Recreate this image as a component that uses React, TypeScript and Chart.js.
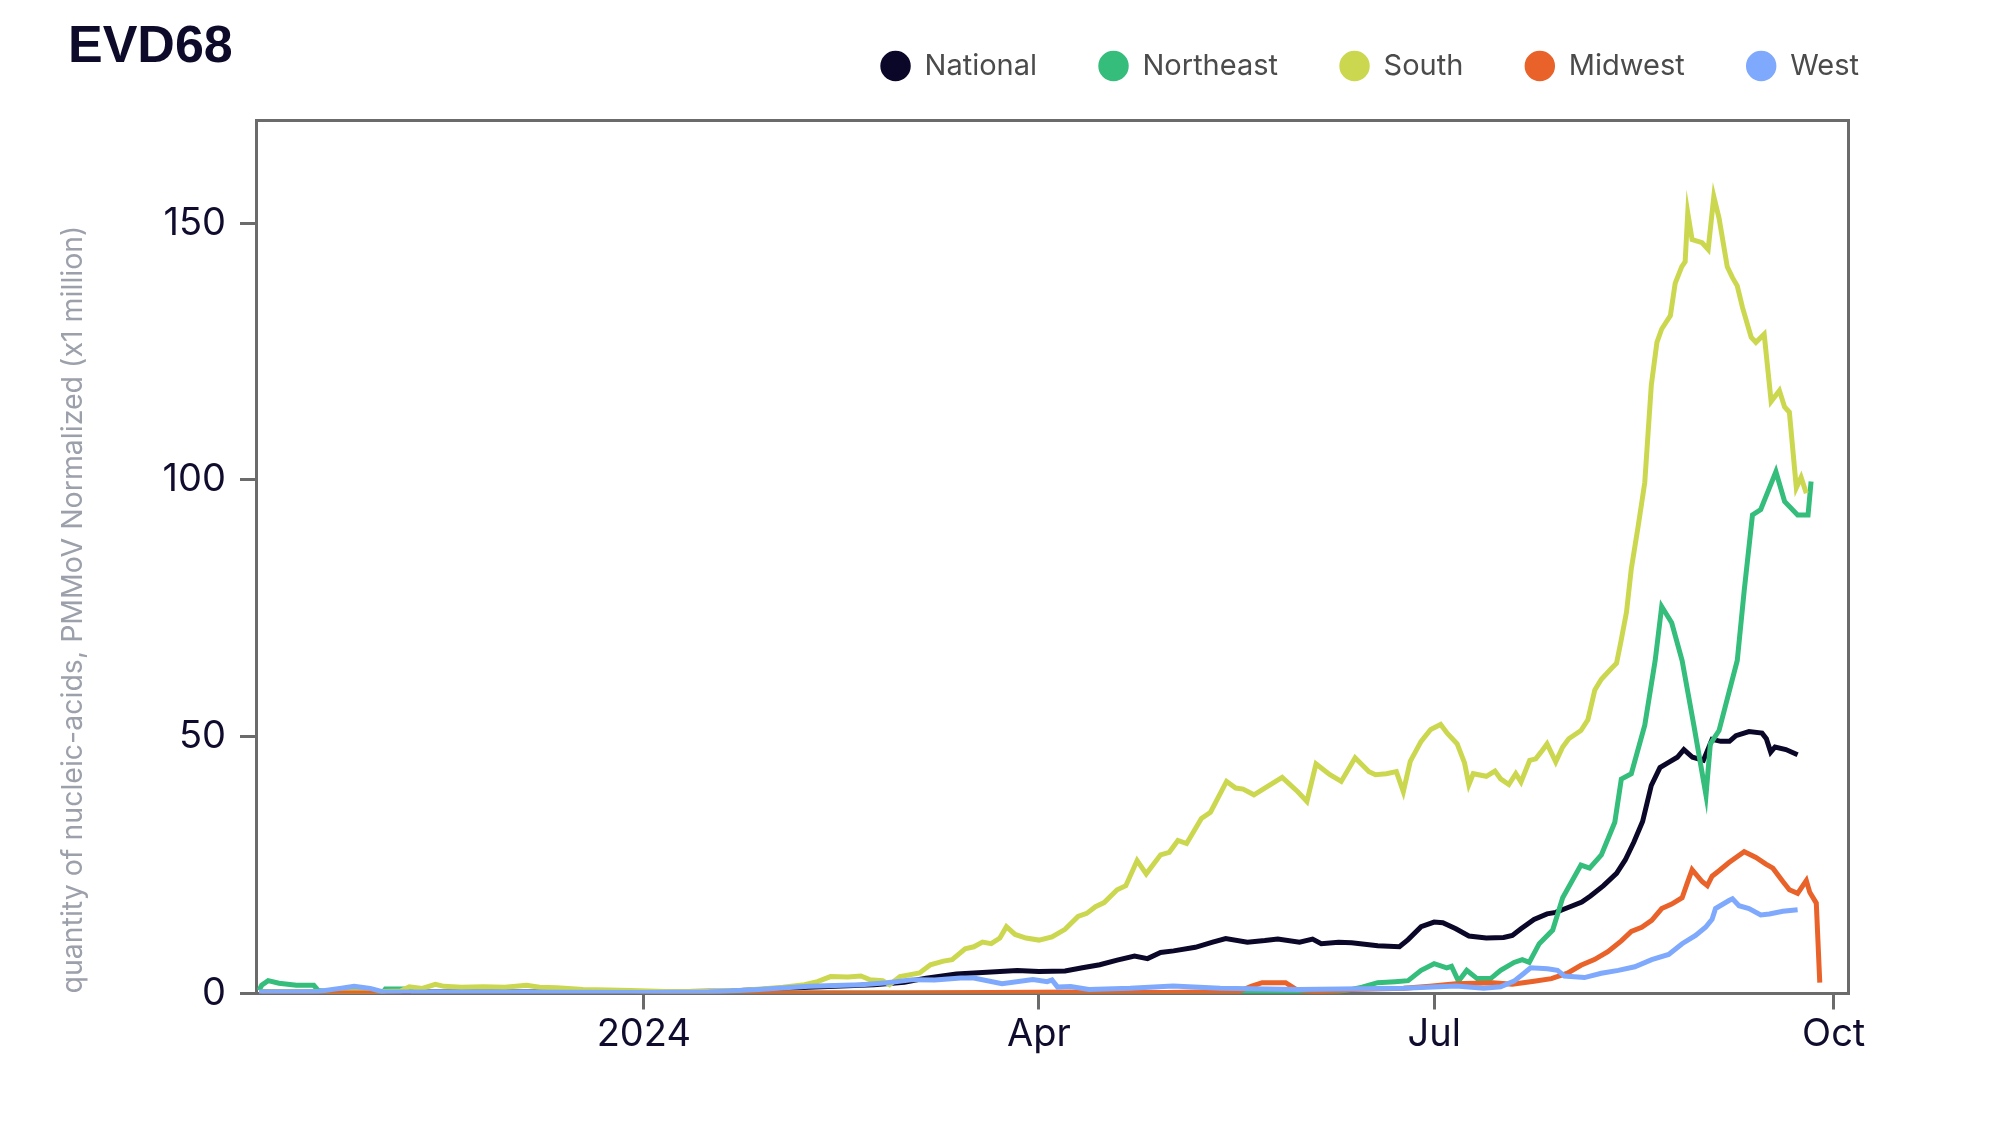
import React, { useEffect, useRef } from "react";
import { Chart, registerables } from "chart.js";

Chart.register(...registerables);

// x values are days since 2024-01-01
const seriesNames = ["National", "Northeast", "South", "Midwest", "West"];
const seriesColors = ["#0b0729", "#34bd7b", "#cbd84f", "#e9622a", "#7fa9fd"];

const xTickDays = [0, 91, 182, 274];
const xTickLabels = ["2024", "Apr", "Jul", "Oct"];
const yTickValues = [0, 50, 100, 150];
const chartTitle = "EVD68";
const yAxisTitle = "quantity of nucleic-acids, PMMoV Normalized (x1 million)";

const national: [number, number][] = [
  [-88, 0.3], [-60, 0.3], [-30, 0.3], [0, 0.3], [20, 0.5], [38, 1.2], [53, 1.7], [60, 2.2], [65, 3.0],
  [72, 3.8], [78, 4.1], [86, 4.5], [91, 4.3], [97, 4.4], [101, 5.0], [105, 5.6], [109, 6.5], [113, 7.3],
  [116, 6.8], [119, 8.0], [122, 8.3], [127, 9.0], [131, 10.0], [134, 10.7], [139, 10.0], [143, 10.3],
  [146, 10.6], [151, 10.0], [154, 10.6], [156, 9.7], [160, 10.0], [163, 9.9], [169, 9.3], [174, 9.1],
  [176, 10.5], [179, 13.0], [182, 13.9], [184, 13.8], [187, 12.6], [190, 11.2], [194, 10.8], [198, 10.9],
  [200, 11.3], [202, 12.6], [205, 14.4], [208, 15.5], [210, 15.8], [213, 16.8], [216, 17.8], [218, 19.0],
  [221, 21.0], [224, 23.4], [226, 26.0], [228, 29.5], [230, 33.5], [232, 40.5], [234, 44.0], [236, 45.0],
  [238, 46.0], [239.5, 47.5], [241.5, 46.0], [244, 45.4], [246, 49.5], [248, 49.1], [250, 49.1],
  [251.5, 50.2], [254.5, 51.0], [257.5, 50.7], [258.5, 49.6], [259.5, 47.0], [260.5, 48.0], [263, 47.5],
  [265.7, 46.5],
];

const northeast: [number, number][] = [
  [-88.6, 0.6], [-88, 1.6], [-86.5, 2.5], [-84, 2.0], [-80, 1.6], [-76, 1.6], [-75, 0.6], [-70, 0.2],
  [-60, 0.3], [-59.5, 0.9], [-54, 0.9], [-53, 0.2], [-30, 0.1], [0, 0.1], [60, 0.1], [100, 0.1], [150, 0.2],
  [160, 0.4], [163, 0.8], [165.4, 1.25], [169, 2.1], [173, 2.3], [176, 2.5], [179, 4.5], [182, 5.8],
  [184.9, 5.0], [186, 5.3], [187.6, 2.4], [189.5, 4.5], [191.9, 2.9], [195, 2.9], [197.3, 4.5], [200.4, 6.05],
  [202.3, 6.6], [203.9, 6.05], [206.2, 9.7], [209.3, 12.35], [211.6, 18.65], [215.8, 25.0], [217.8, 24.4],
  [220.5, 27.0], [223.6, 33.35], [225.1, 41.75], [227.4, 42.8], [230.5, 52.25], [232.9, 64.85], [234.4, 75.35],
  [236.7, 72.2], [239.1, 64.85], [241.8, 52.25], [244.6, 38.6], [245.6, 48.6], [247.6, 51.2], [251.8, 64.85],
  [253.4, 78.5], [255.3, 93.2], [257.2, 94.25], [259.2, 98.45], [260.7, 101.6], [262.7, 95.8], [265.7, 93.2],
  [268.1, 93.2], [268.8, 99.7],
];

const south: [number, number][] = [
  [-88, 0.3], [-60, 0.4], [-56, 0.5], [-54, 1.3], [-51, 1.0], [-48, 1.8], [-46, 1.4], [-42, 1.2], [-37, 1.3],
  [-32, 1.2], [-27, 1.6], [-24, 1.2], [-20, 1.1], [-14, 0.8], [-8, 0.7], [-3, 0.6], [5, 0.4], [15, 0.4],
  [22, 0.6], [27, 0.9], [32, 1.2], [37, 1.7], [40, 2.3], [43, 3.3], [47, 3.2], [50, 3.4], [52, 2.7], [55, 2.5],
  [56.6, 1.7], [59, 3.3], [63.5, 4.0], [66, 5.6], [69, 6.3], [71, 6.6], [74, 8.7], [76, 9.1], [78, 10.0],
  [80, 9.7], [82, 10.8], [83.5, 13.0], [85.5, 11.5], [88, 10.8], [91, 10.4], [94, 11.0], [97, 12.5],
  [100, 15.0], [102, 15.6], [104, 16.9], [106, 17.7], [109, 20.2], [111, 21.0], [113.6, 25.9], [115.7, 23.3],
  [119, 27.0], [121, 27.5], [123, 29.8], [125, 29.2], [128.4, 34.1], [130.5, 35.3], [134.2, 41.3],
  [136.3, 40.0], [138, 39.8], [140.5, 38.7], [143, 40.0], [147, 42.1], [150.6, 39.3], [152.7, 37.4],
  [154.8, 44.7], [158, 42.6], [160.6, 41.3], [163.8, 45.9], [167, 43.2], [168.5, 42.6], [171, 42.8],
  [173.3, 43.2], [174.9, 39.3], [176.5, 45.2], [179, 49.1], [181.2, 51.4], [183.5, 52.4], [185, 50.7],
  [187.3, 48.6], [189, 44.9], [190, 40.7], [191, 42.8], [194, 42.3], [196, 43.3], [197.3, 41.8], [199.2, 40.7],
  [200.8, 42.8], [202, 41.2], [204, 45.4], [205.4, 45.7], [206.6, 47.0], [208, 48.6], [210, 45.1],
  [211.6, 48.0], [213, 49.6], [215.8, 51.2], [217.4, 53.3], [219, 59.1], [220.5, 61.2], [222.8, 63.3],
  [224, 64.3], [225, 68.5], [226.3, 74.3], [227.4, 82.7], [229, 91.1], [230.5, 99.5], [232, 118.4],
  [233.3, 126.8], [234.4, 129.4], [236.4, 132.0], [237.5, 138.3], [239, 141.5], [239.8, 142.5], [240.4, 152.0],
  [241.4, 146.8], [243.7, 146.2], [245.1, 144.9], [246.4, 155.2], [247.6, 151.0], [249.5, 141.5],
  [250.7, 139.4], [251.8, 137.8], [253, 133.6], [255, 127.8], [256.1, 126.8], [258, 128.4], [259.6, 115.3],
  [261.5, 117.4], [262.7, 114.2], [263.8, 113.2], [265.4, 98.5], [266.5, 100.5], [267.7, 97.4],
];

const midwest: [number, number][] = [
  [-88.6, 0.1], [-40, 0.1], [0, 0.1], [60, 0.1], [80, 0.2], [100, 0.3], [120, 0.2], [137, 0.4], [140, 1.45],
  [142.4, 2.1], [147.8, 2.1], [150.2, 0.8], [155, 0.3], [163, 0.8], [175, 1.0], [181, 1.4], [187, 1.9],
  [195.5, 2.1], [200, 1.8], [205, 2.4], [209, 2.9], [212.7, 3.95], [215.8, 5.5], [218.9, 6.6], [222, 8.15],
  [225.1, 10.25], [227.4, 12.1], [229.8, 12.9], [232.1, 14.25], [234.4, 16.55], [236.7, 17.4], [239.1, 18.65],
  [240.2, 21.3], [241.4, 24.1], [243.7, 21.8], [244.9, 21.0], [246, 22.85], [247.6, 23.9], [249.9, 25.5],
  [253.4, 27.6], [256.1, 26.5], [258.4, 25.2], [260, 24.4], [262.3, 21.8], [263.8, 20.2], [265.7, 19.5],
  [267.7, 22.0], [268.5, 19.7], [270, 17.6], [270.8, 2.1],
];

const west: [number, number][] = [
  [-88.6, 0.3], [-80, 0.3], [-75, 0.4], [-70, 1.0], [-66.7, 1.4], [-63, 1.0], [-60, 0.3], [-30, 0.3], [0, 0.2],
  [15, 0.3], [26.5, 0.8], [38, 1.4], [50, 1.7], [56, 2.1], [62, 2.7], [67, 2.65], [73, 3.0], [76, 3.0],
  [82.5, 1.9], [89.6, 2.7], [92.9, 2.3], [94, 2.65], [95.3, 1.25], [98.3, 1.35], [102.5, 0.8], [112, 1.0],
  [121.9, 1.45], [132.7, 1.0], [150.8, 0.8], [174.9, 1.0], [187.1, 1.45], [193.4, 1.0], [197.3, 1.3],
  [200.4, 2.4], [202.7, 3.95], [204.2, 5.0], [208.1, 4.8], [210.4, 4.5], [212, 3.4], [216.6, 3.1],
  [220.5, 3.95], [224.4, 4.5], [228.2, 5.2], [232.1, 6.6], [236, 7.6], [239.1, 9.7], [242.2, 11.3],
  [244.5, 12.9], [246, 14.45], [246.8, 16.55], [249.9, 18.1], [250.7, 18.45], [252.2, 17.1], [254.5, 16.55],
  [257.2, 15.3], [259.2, 15.5], [262.3, 16.0], [265.7, 16.3],
];

const FRAME = "#6b6b6b";
const TICK_TEXT = "#100c2e";
const X_MIN = -89.3;
const X_MAX = 277.3;

export default function App() {
  const ref = useRef<HTMLCanvasElement>(null);

  useEffect(() => {
    const seriesData = [national, northeast, south, midwest, west];
    // draw West on top: first dataset is drawn last
    const drawOrder = [4, 3, 2, 1, 0];
    const datasets = drawOrder.map((i) => ({
      label: seriesNames[i],
      data: seriesData[i].map(([x, y]) => ({ x, y })),
      borderColor: seriesColors[i],
      backgroundColor: seriesColors[i],
      borderWidth: 5,
      pointRadius: 0,
      pointHoverRadius: 0,
      tension: 0,
    }));

    const tickFont = { family: "Inter", size: 38 };

    const chart = new Chart(ref.current as HTMLCanvasElement, {
      type: "line",
      data: { datasets },
      options: {
        animation: false,
        responsive: false,
        devicePixelRatio: 1,
        layout: { padding: { left: 60, right: 71, top: -18.5, bottom: 0 } },
        plugins: {
          legend: {
            position: "top",
            align: "end",
            reverse: true,
            weight: 3000,
            labels: {
              usePointStyle: true,
              pointStyle: "circle",
              boxWidth: 29,
              boxHeight: 18,
              padding: 62,
              color: "#4b4b4b",
              font: { family: "Inter", size: 29 },
            },
          },
          title: {
            display: true,
            text: chartTitle,
            align: "start",
            weight: 2000,
            color: "#0d0a2a",
            font: { family: "Liberation Sans", size: 52, weight: "bold" },
            padding: { top: -74.2, bottom: 41.8 },
          },
          tooltip: { enabled: false },
        },
        scales: {
          x: {
            type: "linear",
            position: "bottom",
            min: X_MIN,
            max: X_MAX,
            afterBuildTicks: (s: any) => {
              s.ticks = xTickDays.map((v) => ({ value: v }));
            },
            afterFit: (s: any) => {
              s.height = 114.5;
            },
            ticks: {
              autoSkip: false,
              maxRotation: 0,
              padding: 2,
              color: TICK_TEXT,
              font: tickFont,
              callback: (v: any) => {
                const k = xTickDays.indexOf(Number(v));
                return k >= 0 ? xTickLabels[k] : "";
              },
            },
            grid: { drawOnChartArea: false, tickLength: 16, color: FRAME, lineWidth: 3 },
            border: { display: true, color: FRAME, width: 3 },
          },
          y: {
            type: "linear",
            position: "left",
            min: 0,
            max: 170,
            afterBuildTicks: (s: any) => {
              s.ticks = yTickValues.map((v) => ({ value: v }));
            },
            afterFit: (s: any) => {
              s.width = 188;
            },
            ticks: { padding: 14, color: TICK_TEXT, font: tickFont },
            grid: { drawOnChartArea: false, tickLength: 16, color: FRAME, lineWidth: 3 },
            border: { display: true, color: FRAME, width: 3 },
            title: {
              display: true,
              text: yAxisTitle,
              align: "start",
              color: "#9ca0ab",
              font: { family: "Inter", size: 28.5 },
              padding: { top: -12, bottom: 0 },
            },
          },
          xTop: {
            type: "linear",
            position: "top",
            min: X_MIN,
            max: X_MAX,
            afterFit: (s: any) => {
              s.height = 0;
            },
            ticks: { display: false },
            grid: { display: false },
            border: { display: true, color: FRAME, width: 3 },
          },
          yRight: {
            type: "linear",
            position: "right",
            min: 0,
            max: 170,
            afterFit: (s: any) => {
              s.width = 73;
            },
            ticks: { display: false },
            grid: { display: false },
            border: { display: true, color: FRAME, width: 3 },
          },
        },
      } as any,
    });

    return () => chart.destroy();
  }, []);

  return (
    <div style={{ position: "relative", width: 1984, height: 1100 }}>
      <canvas ref={ref} width={1984} height={1100} style={{ width: 1984, height: 1100, display: "block" }} />
    </div>
  );
}
